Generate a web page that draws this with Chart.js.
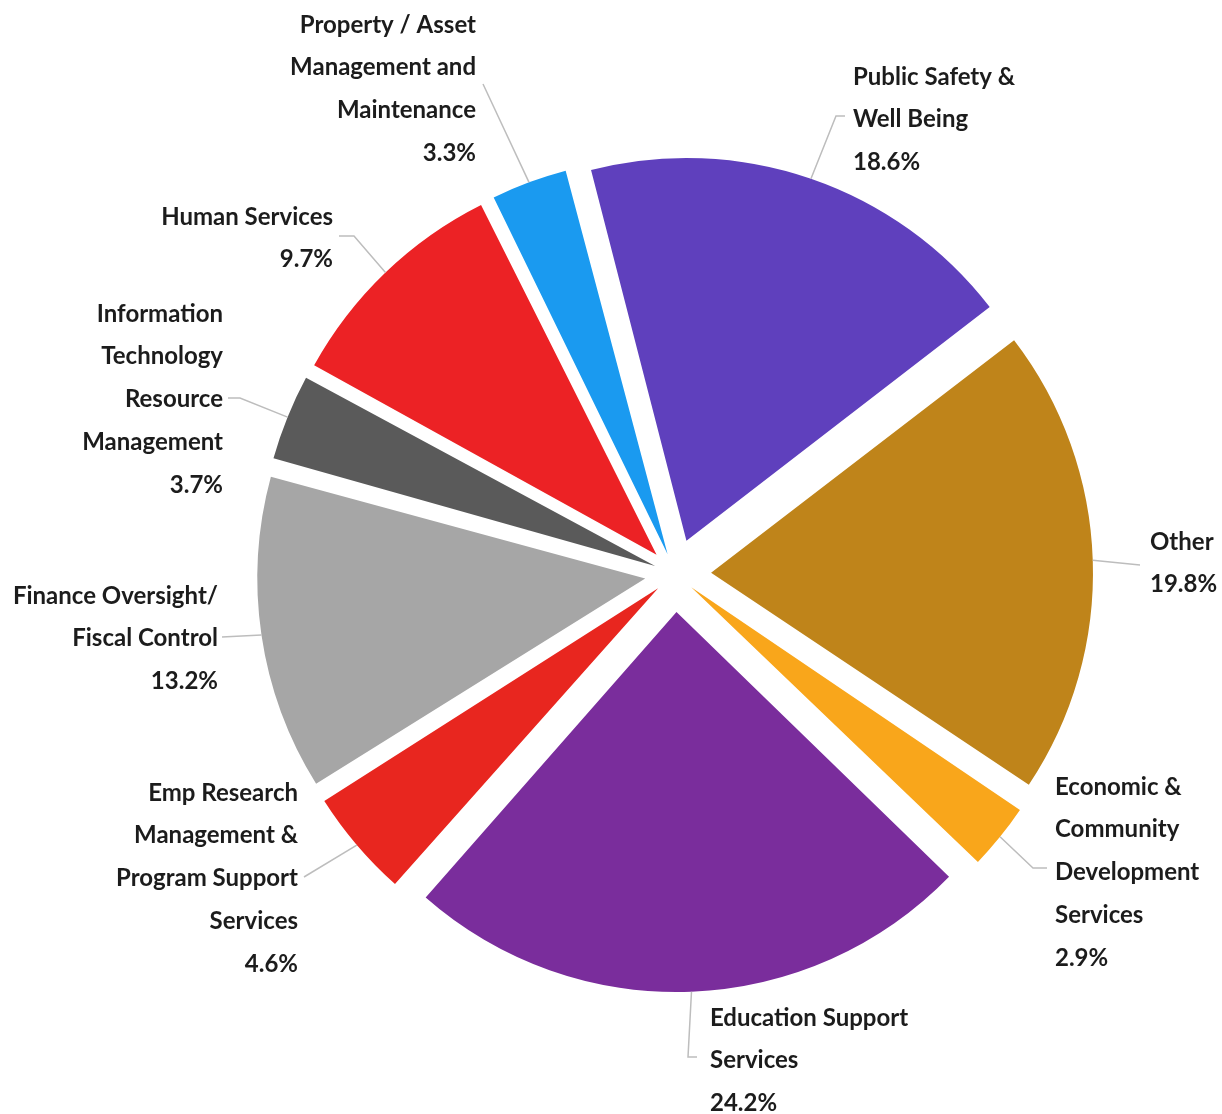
<!DOCTYPE html>
<html>
<head>
<meta charset="utf-8">
<title>Budget share by function</title>
<script src="https://cdn.jsdelivr.net/npm/chart.js@4/dist/chart.umd.min.js"></script>
<style>
  html, body { margin: 0; padding: 0; background: #ffffff; }
  #wrap { width: 1222px; height: 1114px; position: relative; }
</style>
</head>
<body>
<div id="wrap"><canvas id="pie" width="1222" height="1114"></canvas></div>
<script>
// Functional areas, clockwise from the top
const categories = [
  'Public Safety & Well Being',
  'Other',
  'Economic & Community Development Services',
  'Education Support Services',
  'Emp Research Management & Program Support Services',
  'Finance Oversight/ Fiscal Control',
  'Information Technology Resource Management',
  'Human Services',
  'Property / Asset Management and Maintenance'
];

// Share of total, percent
const shares = [18.6, 19.8, 2.9, 24.2, 4.6, 13.2, 3.7, 9.7, 3.3];

// How each category name wraps in its label
const labelLines = [
  ['Public Safety &', 'Well Being'],
  ['Other'],
  ['Economic &', 'Community', 'Development', 'Services'],
  ['Education Support', 'Services'],
  ['Emp Research', 'Management &', 'Program Support', 'Services'],
  ['Finance Oversight/', 'Fiscal Control'],
  ['Information', 'Technology', 'Resource', 'Management'],
  ['Human Services'],
  ['Property / Asset', 'Management and', 'Maintenance']
];

const sliceColors = [
  '#5f40bd', '#bf841a', '#f9a61b', '#7a2d9c', '#e8261f',
  '#a6a6a6', '#5a5a5a', '#ec2225', '#1a9af0'
];

// Label placement relative to the pie centre: text anchor (aligned edge, first line centre)
// and the bends of each leader line, ending next to the text.
const labelLayout = [
  { align: 'left',  tx: 178,  ty: -497, path: [[161, -458], [170, -458]] },
  { align: 'left',  tx: 475,  ty: -32,  path: [[465, -9]] },
  { align: 'left',  tx: 380,  ty: 213,  path: [[358, 294], [372, 294]] },
  { align: 'left',  tx: 35,   ty: 444,  path: [[13, 483], [22, 483]] },
  { align: 'right', tx: -377, ty: 219,  path: [[-371, 303]] },
  { align: 'right', tx: -457, ty: 22,   path: [[-453, 63]] },
  { align: 'right', tx: -452, ty: -260, path: [[-435, -176], [-447, -176]] },
  { align: 'right', tx: -342, ty: -357, path: [[-321, -338], [-336, -338]] },
  { align: 'right', tx: -199, ty: -549, path: [[-192, -490]] }
];

const EXPLODE = 38;          // distance every slice is pulled out from the centre, px
const LINE_HEIGHT = 42.7;
const LABEL_FONT = 'bold 24px Lato, "Open Sans", sans-serif';

// Chart.js moves an arc by offset/4 * (1 + fix), fix = 1 - sin(circumference);
// pick the offset so that every slice travels the same distance.
function shiftFactor(circ) {
  return (1 + (1 - Math.sin(Math.min(Math.PI, circ)))) / 4;
}
function sliceOffset(ctx) {
  const circ = shares[ctx.dataIndex] / 100 * Math.PI * 2;
  return EXPLODE / shiftFactor(circ);
}

// Draws outside labels with leader lines attached to the middle of each slice's rim
const outsideLabels = {
  id: 'outsideLabels',
  afterDatasetsDraw(chart) {
    const ctx = chart.ctx;
    const meta = chart.getDatasetMeta(0);
    meta.data.forEach((arc, i) => {
      const p = arc.getProps(['x', 'y', 'startAngle', 'endAngle', 'outerRadius', 'circumference'], true);
      const shift = (arc.options.offset || 0) * shiftFactor(p.circumference);
      const mid = (p.startAngle + p.endAngle) / 2;
      const rim = p.outerRadius + shift;
      const sx = p.x + Math.cos(mid) * rim;
      const sy = p.y + Math.sin(mid) * rim;
      const lay = labelLayout[i];

      ctx.save();
      ctx.strokeStyle = '#bdbdbd';
      ctx.lineWidth = 1.5;
      ctx.beginPath();
      ctx.moveTo(sx, sy);
      lay.path.forEach(([dx, dy]) => ctx.lineTo(p.x + dx, p.y + dy));
      ctx.stroke();

      ctx.fillStyle = '#1c1c1c';
      ctx.font = LABEL_FONT;
      ctx.textAlign = lay.align;
      ctx.textBaseline = 'middle';
      const lines = labelLines[i].concat([shares[i].toFixed(1) + '%']);
      lines.forEach((t, k) => {
        ctx.fillText(t, p.x + lay.tx, p.y + lay.ty + k * LINE_HEIGHT);
      });
      ctx.restore();
    });
  }
};

new Chart(document.getElementById('pie'), {
  type: 'pie',
  data: {
    labels: categories,
    datasets: [{
      data: shares,
      backgroundColor: sliceColors,
      borderWidth: 0,
      offset: sliceOffset
    }]
  },
  options: {
    responsive: false,
    animation: false,
    rotation: -14.5,
    radius: 380,
    layout: { padding: { left: 128, right: 0, top: 34, bottom: 0 } },
    plugins: {
      legend: { display: false },
      tooltip: { enabled: false }
    }
  },
  plugins: [outsideLabels]
});
</script>
</body>
</html>
